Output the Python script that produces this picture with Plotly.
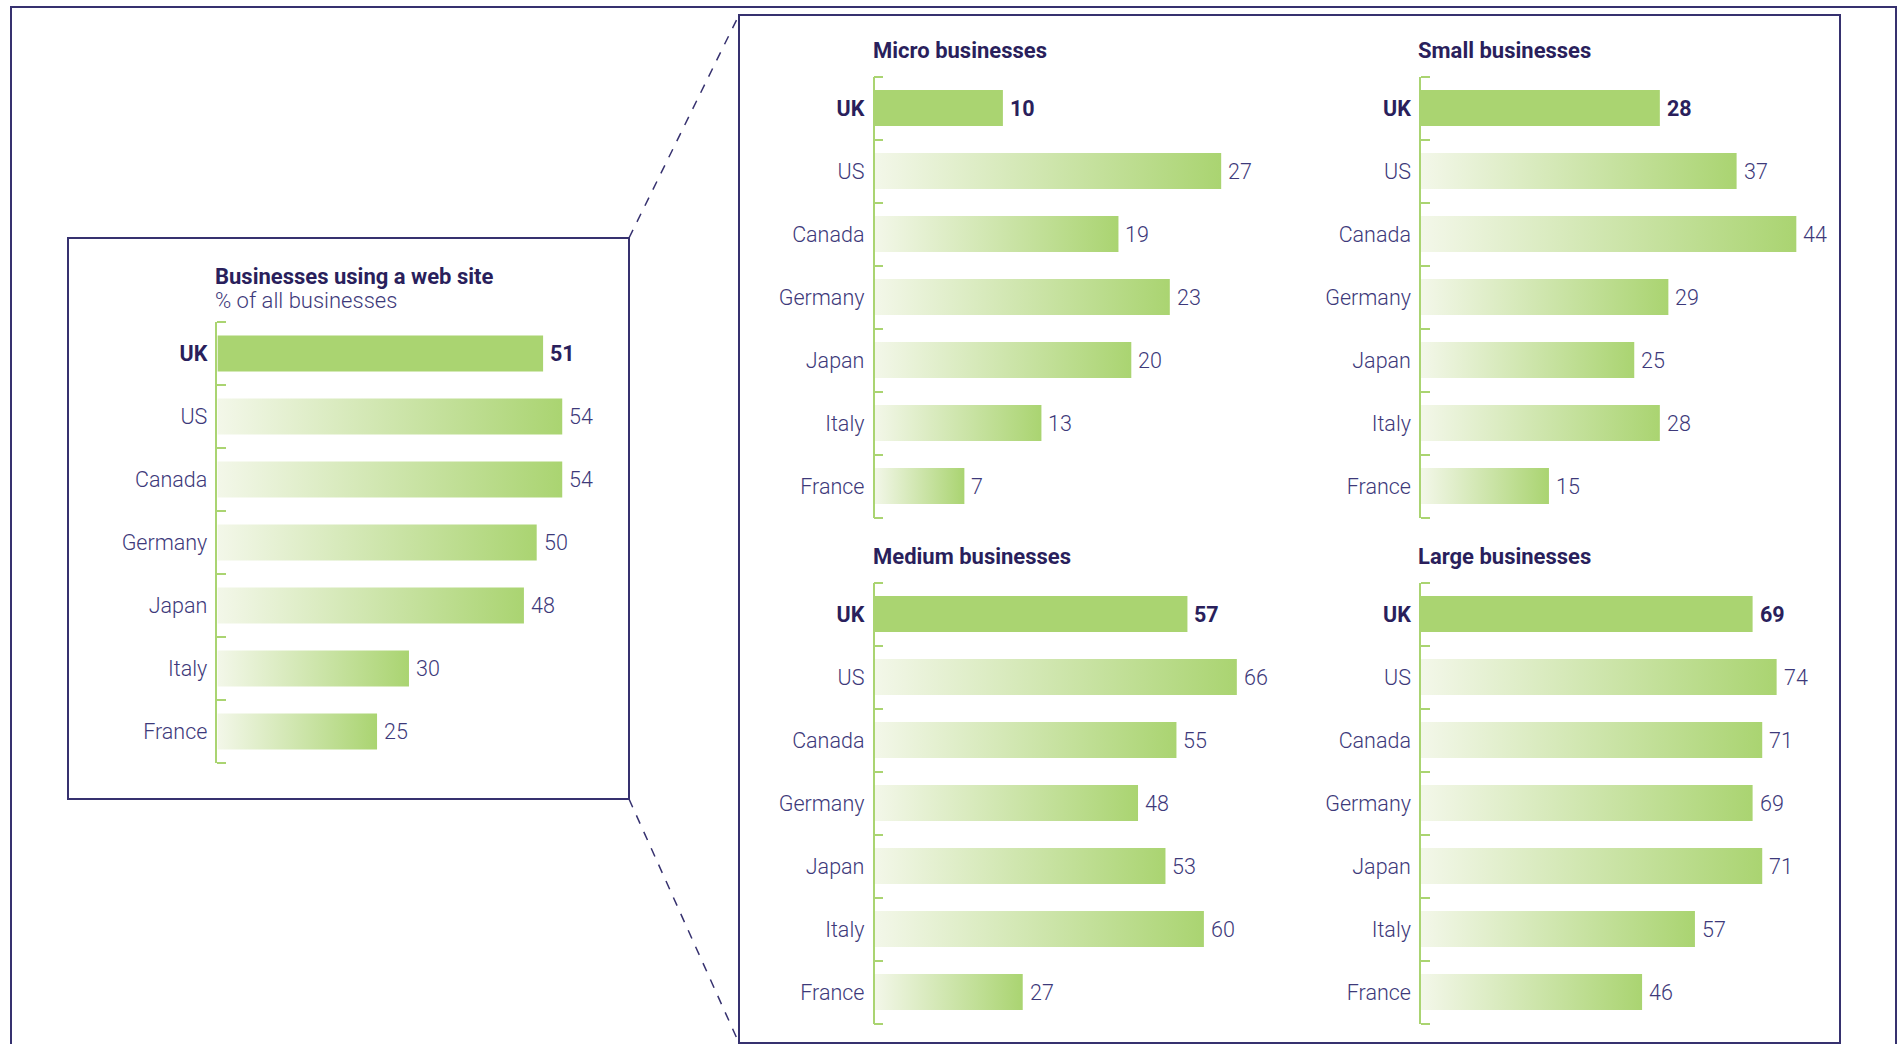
import plotly.graph_objects as go

# ---------------- data ----------------
categories = ["UK", "US", "Canada", "Germany", "Japan", "Italy", "France"]
all_businesses = [51, 54, 54, 50, 48, 30, 25]
micro = [10, 27, 19, 23, 20, 13, 7]
small = [28, 37, 44, 29, 25, 28, 15]
medium = [57, 66, 55, 48, 53, 60, 27]
large = [69, 74, 71, 69, 71, 57, 46]

titles = ["Businesses using a web site", "Micro businesses", "Small businesses",
          "Medium businesses", "Large businesses"]
subtitle = "% of all businesses"

# ---------------- style / layout constants ----------------
W, H = 1904, 1044
FONT = "Roboto"
GREEN = "#aad471"
LIGHT = "#f3f7e9"
NAVY = "#36316f"
LABEL = "#3d397a"
DARK = "#2a1f5c"

# (axis x px, top px, bottom px, px per unit)
geom = [
    (217.4, 322.0, 763.0, 6.386),
    (874.5, 76.5, 517.5, 12.84),
    (1421.0, 76.5, 517.5, 8.53),
    (874.5, 582.5, 1023.5, 5.49),
    (1421.0, 582.5, 1023.5, 4.806),
]
series = [all_businesses, micro, small, medium, large]
DOM_W = 380.0
HALF = 0.285


def px(x):
    return x / W


def py(y):
    return 1 - y / H


fig = go.Figure()
annotations = []
layout_axes = {}

for k, (vals, (ax_x, top, bot, ppu)) in enumerate(zip(series, geom)):
    n = k + 1
    xa = "x" if n == 1 else f"x{n}"
    ya = "y" if n == 1 else f"y{n}"
    for i, v in enumerate(vals):
        common = dict(x=[0, v, v, 0], y=[i - HALF, i - HALF, i + HALF, i + HALF],
                      mode="lines", fill="toself", line=dict(width=0),
                      hoverinfo="skip", showlegend=False, xaxis=xa, yaxis=ya)
        if categories[i] == "UK":
            fig.add_trace(go.Scatter(fillcolor=GREEN, **common))
        else:
            fig.add_trace(go.Scatter(
                fillgradient=dict(type="horizontal",
                                  colorscale=[[0, LIGHT], [1, GREEN]]),
                **common))
        is_uk = categories[i] == "UK"
        annotations.append(dict(
            x=v, y=i, xref=xa, yref=ya, xanchor="left", yanchor="middle",
            xshift=5, showarrow=False,
            text=f"<b>{v}</b>" if is_uk else str(v),
            font=dict(family=FONT, size=21.5, color=DARK if is_uk else LABEL,
                      weight=700 if is_uk else 300)))

    ticktext = [f"<span style='color:{DARK}'><b>{c}</b></span>" if c == "UK" else c
                for c in categories]
    layout_axes["xaxis" if n == 1 else f"xaxis{n}"] = dict(
        domain=[px(ax_x), px(ax_x + DOM_W)], range=[0, DOM_W / ppu],
        visible=False, anchor=ya, fixedrange=True)
    layout_axes["yaxis" if n == 1 else f"yaxis{n}"] = dict(
        domain=[py(bot), py(top)], range=[len(categories) - 0.5, -0.5],
        anchor=xa, tickmode="array", tickvals=list(range(len(categories))),
        ticktext=ticktext, ticks="", showline=True, linecolor=GREEN,
        linewidth=1.5, showgrid=False, zeroline=False, ticklabelstandoff=4,
        tickfont=dict(family=FONT, size=21.5, color=LABEL, weight=300),
        fixedrange=True,
        minor=dict(tickmode="array",
                   tickvals=[j - 0.5 for j in range(len(categories) + 1)],
                   ticks="inside", ticklen=9, tickwidth=1.5, tickcolor=GREEN,
                   showgrid=False))

# titles
title_pos = [(213, 276), (871, 51), (1416, 51), (871, 556), (1416, 556)]
for t, (tx, ty) in zip(titles, title_pos):
    annotations.append(dict(x=px(tx), y=py(ty), xref="paper", yref="paper",
                            xanchor="left", yanchor="middle", showarrow=False,
                            text=f"<b>{t}</b>",
                            font=dict(family=FONT, size=22, color=DARK)))
annotations.append(dict(x=px(213), y=py(300), xref="paper", yref="paper",
                        xanchor="left", yanchor="middle", showarrow=False,
                        text=subtitle,
                        font=dict(family=FONT, size=22, color=LABEL, weight=300)))

# frames and connector lines
shapes = [
    dict(type="rect", xref="paper", yref="paper", x0=px(11), y0=py(7),
         x1=px(1896), y1=py(1070), line=dict(color=NAVY, width=2)),
    dict(type="rect", xref="paper", yref="paper", x0=px(68), y0=py(238),
         x1=px(629), y1=py(799), line=dict(color=NAVY, width=2)),
    dict(type="rect", xref="paper", yref="paper", x0=px(739), y0=py(15),
         x1=px(1840), y1=py(1043), line=dict(color=NAVY, width=2)),
    dict(type="line", xref="paper", yref="paper", x0=px(629), y0=py(238),
         x1=px(739), y1=py(15), line=dict(color=NAVY, width=1.5, dash="dash")),
    dict(type="line", xref="paper", yref="paper", x0=px(629), y0=py(799),
         x1=px(739), y1=py(1043), line=dict(color=NAVY, width=1.5, dash="dash")),
]

fig.update_layout(
    width=W, height=H, margin=dict(l=0, r=0, t=0, b=0),
    paper_bgcolor="white", plot_bgcolor="rgba(0,0,0,0)",
    annotations=annotations, shapes=shapes, showlegend=False,
    font=dict(family=FONT, color=LABEL), **layout_axes)

fig.write_html("out.html", config={"displayModeBar": False},
               post_script="document.body.style.margin='0';"
                           "document.body.style.overflow='hidden';")
